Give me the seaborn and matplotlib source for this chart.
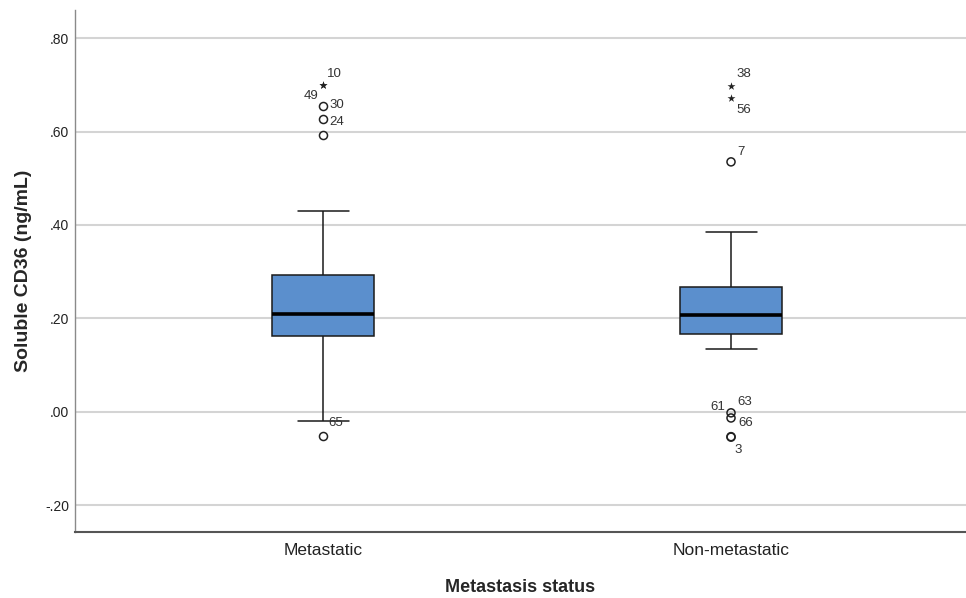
import seaborn as sns
import matplotlib.pyplot as plt
import pandas as pd

# values
groups = ["Metastatic", "Non-metastatic"]

# whisker low, q1, q1, median, q3, q3, whisker high
metastatic_box = [-0.019, 0.163, 0.163, 0.210, 0.293, 0.293, 0.430]
nonmetastatic_box = [0.135, 0.167, 0.167, 0.207, 0.267, 0.267, 0.385]

# outliers: circles (> 1.5 IQR) and stars (> 3 IQR), with case numbers
metastatic_circles = [0.655, 0.627, 0.593, -0.051]
metastatic_circle_ids = ["30", "24", "", "65"]
metastatic_stars = [0.699, 0.699]
metastatic_star_ids = ["10", "49"]

nonmetastatic_circles = [0.535, -0.002, -0.013, -0.053, -0.054]
nonmetastatic_circle_ids = ["7", "61", "66", "3", ""]
nonmetastatic_stars = [0.697, 0.672]
nonmetastatic_star_ids = ["38", "56"]

# label offsets in pixels (dx, dy, ha)
label_offsets = {
    "10": (4, 11, "left"), "49": (-5, -11, "right"), "30": (6, 1, "left"),
    "24": (6, -3, "left"), "65": (5, 13, "left"),
    "38": (5, 12, "left"), "56": (5, -12, "left"), "7": (6, 10, "left"),
    "61": (-6, 6, "right"), "66": (7, -5, "left"), "3": (3, -13, "left"),
}
extra_labels = [("Non-metastatic", -0.002, "63", (6, 11, "left"))]

box_df = pd.DataFrame({
    "group": [groups[0]] * len(metastatic_box) + [groups[1]] * len(nonmetastatic_box),
    "value": metastatic_box + nonmetastatic_box,
})
circle_df = pd.DataFrame({
    "group": [groups[0]] * len(metastatic_circles) + [groups[1]] * len(nonmetastatic_circles),
    "value": metastatic_circles + nonmetastatic_circles,
    "id": metastatic_circle_ids + nonmetastatic_circle_ids,
})
star_df = pd.DataFrame({
    "group": [groups[0]] * len(metastatic_stars) + [groups[1]] * len(nonmetastatic_stars),
    "value": metastatic_stars + nonmetastatic_stars,
    "id": metastatic_star_ids + nonmetastatic_star_ids,
})

sns.set_style("white")
plt.rcParams["font.family"] = ["Liberation Sans", "DejaVu Sans"]

fig = plt.figure(figsize=(9.66, 5.98), dpi=100)
ax = fig.add_axes([75 / 966, 1 - 532 / 598, 1 - 75 / 966, (532 - 10) / 598])

sns.boxplot(data=box_df, x="group", y="value", order=groups, width=0.25,
            color="#5B8FCD", saturation=1, showfliers=False, linecolor="#1a1a1a",
            linewidth=1.1, medianprops=dict(color="black", linewidth=2.6), ax=ax)

sns.stripplot(data=circle_df, x="group", y="value", order=groups, jitter=False,
              marker="o", size=5.8, color="white", edgecolor="#222222", linewidth=1.1, ax=ax)
ax.collections[-1].set_facecolor("none")
sns.stripplot(data=star_df, x="group", y="value", order=groups, jitter=False,
              marker="*", size=6, color="#222222", linewidth=0, ax=ax)

def add_label(gname, val, text, off):
    dx, dy, ha = off
    ax.annotate(text, (groups.index(gname), val), xytext=(dx, dy),
                textcoords="offset pixels", ha=ha, va="center",
                fontsize=9.5, color="#333333")

for df in (circle_df, star_df):
    for _, row in df.iterrows():
        if row["id"]:
            add_label(row["group"], row["value"], row["id"], label_offsets[row["id"]])
for gname, val, text, off in extra_labels:
    add_label(gname, val, text, off)

ax.set_xlim(-0.608, 1.576)
ax.set_ylim(-0.257, 0.860)
yticks = [-0.2, 0.0, 0.2, 0.4, 0.6, 0.8]
ax.set_yticks(yticks)
ax.set_yticklabels([("-" if t < 0 else "") + f"{abs(t):.2f}".lstrip("0") for t in yticks],
                   fontsize=10, color="#222222")
ax.tick_params(axis="both", length=0)
ax.tick_params(axis="y", pad=4)
ax.tick_params(axis="x", pad=8, labelsize=12.5, labelcolor="#222222")
ax.yaxis.grid(True, color="#d4d4d4", linewidth=1.5)
ax.set_axisbelow(True)

for s in ("top", "right"):
    ax.spines[s].set_visible(False)
ax.spines["left"].set_color("#8a8a8a")
ax.spines["left"].set_linewidth(1.0)
ax.spines["bottom"].set_color("#555555")
ax.spines["bottom"].set_linewidth(1.5)

ax.set_xlabel("Metastasis status", fontsize=13, fontweight="bold", labelpad=15)
ax.set_ylabel("Soluble CD36 (ng/mL)", fontsize=14, fontweight="bold", labelpad=10)

fig.savefig("out.png", dpi=100)
